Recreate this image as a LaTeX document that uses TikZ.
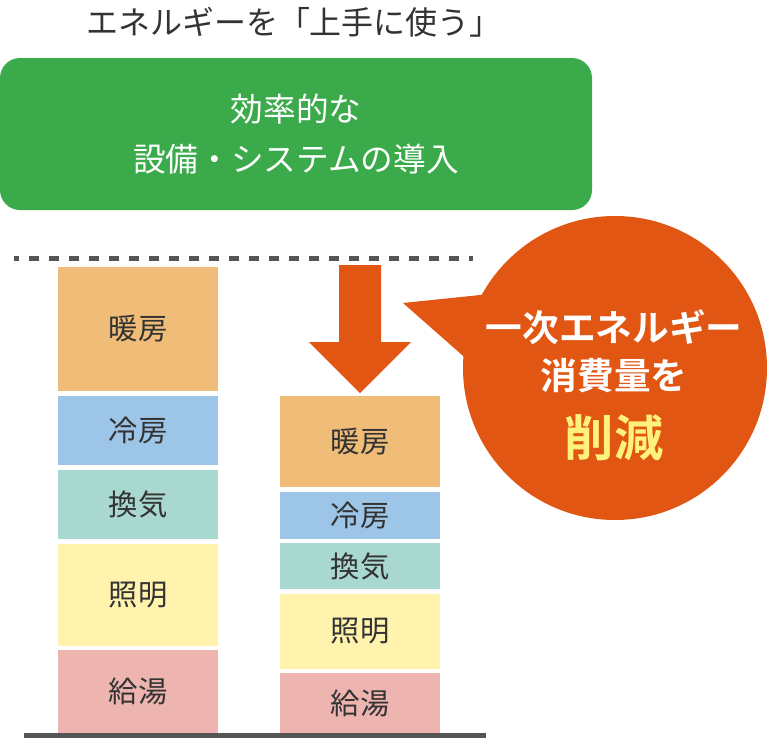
\documentclass[tikz,border=0pt]{standalone}
\usepackage{fontspec}
\setmainfont{Noto Sans CJK JP}
\newfontfamily\boldjp{Noto Sans CJK JP Bold}
\usetikzlibrary{positioning, calc}

\definecolor{textgray}{HTML}{333333}
\definecolor{linegray}{HTML}{555555}
\definecolor{measuregreen}{HTML}{3BAA4A}
\definecolor{cutorange}{HTML}{E25614}
\definecolor{cutyellow}{HTML}{FFF27A}
\definecolor{heatcol}{HTML}{EFBD78}
\definecolor{coolcol}{HTML}{9DC5E7}
\definecolor{ventcol}{HTML}{A9D8D0}
\definecolor{lightcol}{HTML}{FFF3AE}
\definecolor{watercol}{HTML}{EEB5B0}

\begin{document}
\begin{tikzpicture}[
    x=0.75pt, y=-0.75pt,
    label/.style={text=textgray, font=\fontsize{22}{26}\selectfont},
    block/.style={label, inner sep=0pt, outer sep=0pt},
    leftblock/.style={block, minimum width=120pt},
    rightblock/.style={block, minimum width=120pt},
    greenbox/.style={fill=measuregreen, rounded corners=15pt, inner sep=0pt,
        minimum width=444pt, minimum height=114pt, align=center, text=white,
        font=\fontsize{24.5}{37}\selectfont},
    bubbletext/.style={text=white, font=\boldjp\fontsize{27.5}{30}\selectfont}
]
\useasboundingbox (0,0) rectangle (768,739);

% ================= HEADER =================
\node[text=textgray, font=\fontsize{24}{28}\selectfont] (title) at (294,22) {エネルギーを「上手に使う」};
\node[greenbox] (measure) at (296,134) {効率的な\\設備・システムの導入};

% reference level
\draw[linegray, line width=3.75pt, dash pattern=on 7.5pt off 7.5pt, dash phase=3.75pt] (14,258) -- (473,258);

% ================= LEFT COLUMN: BEFORE =================
\node[leftblock, fill=heatcol, minimum height=93pt] (heatA) at (138,329) {暖房};
\node[leftblock, fill=coolcol, minimum height=51.75pt] (coolA) at (138,430.5) {冷房};
\node[leftblock, fill=ventcol, minimum height=51.75pt] (ventA) at (138,504.5) {換気};
\node[leftblock, fill=lightcol, minimum height=76.5pt] (lightA) at (138,595) {照明};
\node[leftblock, fill=watercol, minimum height=62.25pt] (waterA) at (138,691.5) {給湯};

% ================= RIGHT COLUMN: AFTER =================
\node[rightblock, fill=heatcol, minimum height=68.25pt] (heatB) at (360,441.5) {暖房};
\node[rightblock, fill=coolcol, minimum height=35.25pt] (coolB) at (360,515.5) {冷房};
\node[rightblock, fill=ventcol, minimum height=34.5pt] (ventB) at (360,566) {換気};
\node[rightblock, fill=lightcol, minimum height=56.25pt] (lightB) at (360,631.5) {照明};
\node[rightblock, fill=watercol, minimum height=45pt] (waterB) at (360,703) {給湯};

% ground line
\draw[linegray, line width=3.75pt] (24,735.5) -- (486,735.5);

% ================= REDUCTION ARROW & BUBBLE =================
\fill[cutorange] (339,265) -- (381,265) -- (381,342) -- (411,342) -- (360,393)
    -- (309,342) -- (339,342) -- cycle;

\node[circle, fill=cutorange, minimum size=228pt, inner sep=0pt] (bubble) at (615,368) {};
\fill[cutorange] (490,294) -- (403,303) -- (470,362) -- cycle;

\node[bubbletext] (bubbleA) at (614,327) {一次エネルギー};
\node[bubbletext] (bubbleB) at (614,376) {消費量を};
\node[bubbletext, text=cutyellow, font=\boldjp\fontsize{37}{40}\selectfont] (bubbleC) at (614,438) {削減};

\end{tikzpicture}
\end{document}
